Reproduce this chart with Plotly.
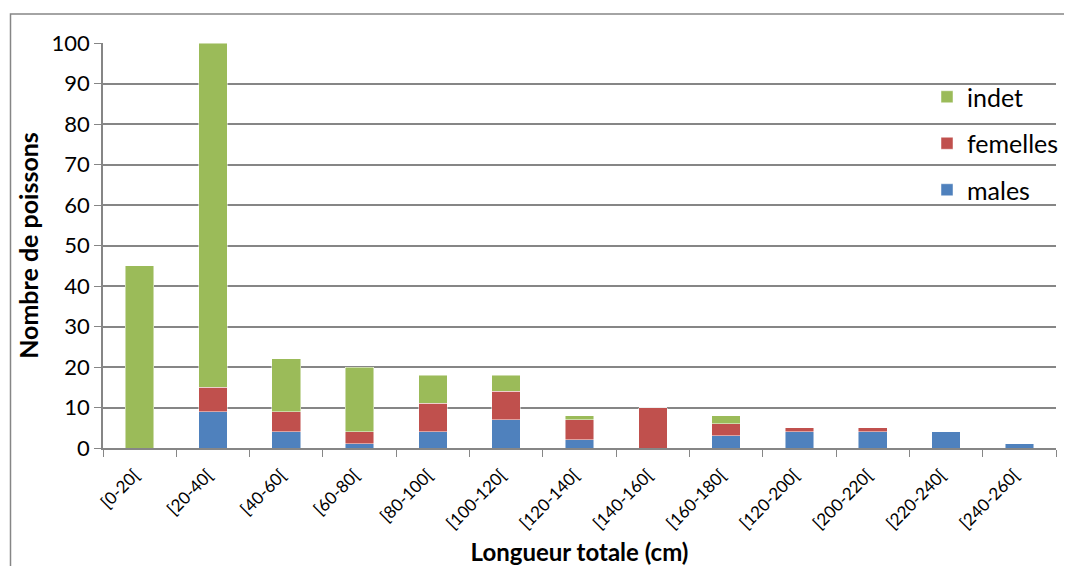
import plotly.graph_objects as go

categories = ["[0-20[", "[20-40[", "[40-60[", "[60-80[", "[80-100[", "[100-120[",
              "[120-140[", "[140-160[", "[160-180[", "[120-200[", "[200-220[",
              "[220-240[", "[240-260["]
males = [0, 9, 4, 1, 4, 7, 2, 0, 3, 4, 4, 4, 1]
femelles = [0, 6, 5, 3, 7, 7, 5, 10, 3, 1, 1, 0, 0]
indet = [45, 85, 13, 16, 7, 4, 1, 0, 2, 0, 0, 0, 0]
y_ticks = list(range(0, 101, 10))

FONT = "Lato, Open Sans, sans-serif"
fig = go.Figure()
for name, vals, col, rank in [("males", males, "#4F81BD", 3),
                              ("femelles", femelles, "#C0504D", 2),
                              ("indet", indet, "#9BBB59", 1)]:
    fig.add_trace(go.Bar(x=categories, y=vals, name=name, legendgroup=name, legendrank=rank,
                         marker=dict(color=col, line=dict(color="rgba(255,255,255,0.6)", width=0.8))))

# page has an 8px body margin: work in figure coords = page coords - 8
OFF = 8
W, H = 1072 - OFF, 566 - OFF
L, T = 103 - OFF, 43 - OFF
pw, ph = 953, 405
R = W - L - pw
B = H - T - ph

def px(xp):
    return (xp - OFF - L) / pw

def py(yp):
    return (T + ph - (yp - OFF)) / ph

fig.update_layout(
    barmode="stack", bargap=0.61,
    width=W, height=H,
    margin=dict(l=L, r=R, t=T, b=B, autoexpand=False),
    plot_bgcolor="white", paper_bgcolor="white",
    font=dict(family=FONT, color="black"),
    legend=dict(x=px(927), y=py(74), xanchor="left", yanchor="top",
                traceorder="grouped", tracegroupgap=11,
                font=dict(size=25, family=FONT), bgcolor="rgba(0,0,0,0)"),
    xaxis=dict(tickangle=-45, tickfont=dict(size=17), ticks="outside", tickson="boundaries",
               ticklen=7, tickcolor="#868686", showline=True, linecolor="#868686", linewidth=1.5,
               ticklabelstandoff=9, ticklabelshift=-5,
               title=dict(text="<b>Longueur totale (cm)</b>", font=dict(size=24), standoff=14)),
    yaxis=dict(range=[0, 100], tickvals=y_ticks, tickfont=dict(size=22), ticks="outside",
               ticklen=7, tickcolor="#868686", showline=True, linecolor="#868686", linewidth=1.5,
               showgrid=True, gridcolor="#868686", gridwidth=1.5, zeroline=False,
               title=dict(text="<b>Nombre de poissons</b>", font=dict(size=25), standoff=6)),
)

fig.add_shape(type="rect", xref="paper", yref="paper",
              x0=px(10.5), x1=px(1090),
              y0=py(600), y1=py(14),
              line=dict(color="#868686", width=1.5), layer="below")

fig.write_html("out.html")
